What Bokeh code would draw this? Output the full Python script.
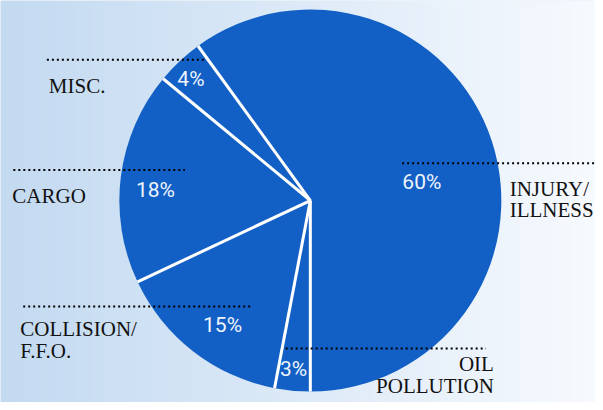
import numpy as np
from bokeh.plotting import figure
from bokeh.models import Range1d
from bokeh.core.properties import value
from bokeh.embed import file_html
from bokeh.resources import INLINE

# ---------------- data ----------------
categories = ["INJURY/\nILLNESS", "MISC.", "CARGO", "COLLISION/\nF.F.O.", "OIL\nPOLLUTION"]
shares = [60, 4, 18, 15, 3]
pct_labels = ["60%", "4%", "18%", "15%", "3%"]

# ---------------- layout (reference pixel coords, 603x410) ----------------
W, H = 595, 402
RW, RH = 603.0, 410.0
def X(xr):
    return xr * W / RW
def Y(yr):
    return H - yr * H / RH

pie_cx, pie_cy, pie_r = X(314), Y(204), 191
# category label anchor (x, first baseline, align)
lab_x = [516, 49, 12, 20, 500]
lab_base = [192, 87, 199, 335, 371]
lab_align = ["left", "left", "left", "left", "right"]
line_gap = 22
# leader (dotted) lines: x0, x1, y
lead_x0 = [407, 47, 13, 23, 289]
lead_x1 = [605, 207, 187, 256, 492]
lead_y = [166, 60.5, 173, 312, 355]
# percent label centres
pct_x = [427, 193, 157, 225, 297]
pct_y = [185, 80, 193, 331, 376]

PIE_BLUE = "#1260c5"

p = figure(width=W, height=H, output_backend="svg", toolbar_location=None,
           x_range=Range1d(0, W), y_range=Range1d(0, H), min_border=0)
p.axis.visible = False
p.grid.visible = False
p.outline_line_color = None
p.background_fill_color = "#dde9f6"
p.border_fill_color = "#dde9f6"

# background gradient (horizontal)
nx = 300
t = np.linspace(0, 1, nx)
left = np.array([195, 218, 241])
right = np.array([247, 250, 254])
cols = (left[None, :] * (1 - t[:, None]) + right[None, :] * t[:, None]).astype(np.uint32)
row = (255 << 24) | (cols[:, 2] << 16) | (cols[:, 1] << 8) | cols[:, 0]
img = np.tile(row.astype(np.uint32), (2, 1))
p.image_rgba(image=[img], x=0, y=0, dw=W, dh=H)

# pie wedges
fr = np.array(shares, dtype=float) / sum(shares)
ends = -np.pi / 2 + 2 * np.pi * np.cumsum(fr)
starts = np.concatenate([[-np.pi / 2], ends[:-1]])
p.wedge(x=pie_cx, y=pie_cy, radius=pie_r, start_angle=starts, end_angle=ends,
        fill_color=PIE_BLUE, line_color=None)
# white separators
p.ray(x=pie_cx, y=pie_cy, angle=starts, length=pie_r, line_color="white", line_width=3)

# dotted leader lines
p.segment(x0=[X(v) for v in lead_x0], x1=[X(v) for v in lead_x1],
          y0=[Y(v) for v in lead_y], y1=[Y(v) for v in lead_y],
          line_color="black", line_width=2, line_dash="2 3")

# category labels
tx, ty, tt, ta = [], [], [], []
for name, x0, b0, al in zip(categories, lab_x, lab_base, lab_align):
    for k, ln in enumerate(name.split("\n")):
        tx.append(X(x0)); ty.append(Y(b0 + k * line_gap)); tt.append(ln); ta.append(al)
for al in ("left", "right"):
    idx = [i for i in range(len(tt)) if ta[i] == al]
    p.text(x=[tx[i] for i in idx], y=[ty[i] for i in idx], text=[tt[i] for i in idx],
           text_align=al, text_baseline="alphabetic", text_color="#111111",
           text_font=value("Liberation Serif"),
           text_font_size="21px")

# percentage labels
p.text(x=[X(v) for v in pct_x], y=[Y(v) for v in pct_y], text=pct_labels,
       text_align="center", text_baseline="middle", text_color="#eef4fc",
       text_font=value("Roboto"),
       text_font_size="21px")

open("out.html", "w").write(file_html(p, INLINE))
